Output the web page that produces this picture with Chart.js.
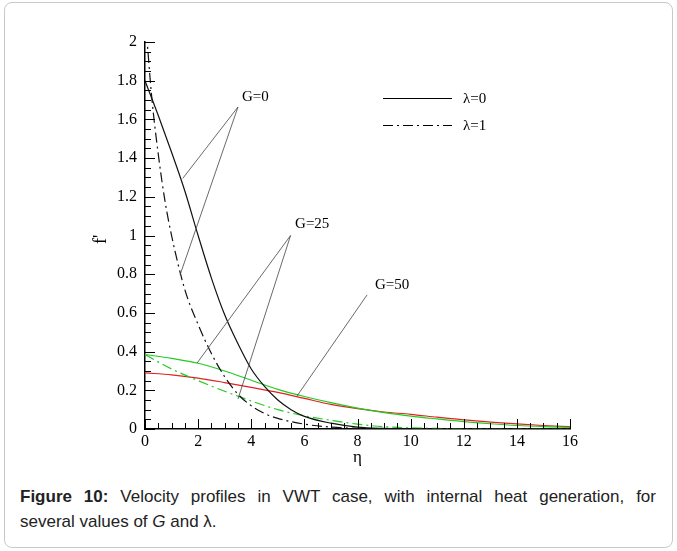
<!DOCTYPE html>
<html>
<head>
<meta charset="utf-8">
<title>Figure 10</title>
<script src="https://cdn.jsdelivr.net/npm/chart.js@4.4.0/dist/chart.umd.min.js"></script>
<style>
  html, body { margin: 0; padding: 0; background: #fff; }
  body { width: 677px; height: 551px; position: relative; overflow: hidden; }
  .frame {
    position: absolute; left: 4px; top: 2px; width: 667px; height: 544px;
    border: 1px solid #c8c8c8; border-radius: 8px;
  }
  #chart { position: absolute; left: 0; top: 0; }
  .caption {
    position: absolute; left: 20px; top: 484px; width: 636px;
    font-family: "Liberation Sans", Arial, sans-serif; font-size: 17px;
    line-height: 25px; color: #222;
  }
  .caption .first { text-align: justify; text-align-last: justify; white-space: nowrap; }
</style>
</head>
<body>
<div class="frame"></div>
<canvas id="chart" width="677" height="470"></canvas>
<div class="caption">
  <div class="first"><b>Figure 10:</b> Velocity profiles in VWT case, with internal heat generation, for</div>
  <div>several values of <i>G</i> and λ.</div>
</div>

<script>
// eta grids
const etaFine = [0, 0.5, 1, 1.5, 2, 2.5, 3, 3.5, 4, 4.5, 5, 5.5, 6, 7, 8, 9, 10, 16];
const etaSteep = [0, 0.25, 0.5, 0.75, 1, 1.5, 2, 2.5, 3, 3.5, 4, 4.5, 5, 6, 7, 8, 9, 16];
const etaWide = [0, 1, 2, 3, 4, 5, 6, 7, 8, 9, 10, 11, 12, 13, 14, 15, 16];

// f'
const g0Lambda0 = [1.8, 1.62, 1.43, 1.23, 1.0, 0.78, 0.59, 0.44, 0.31, 0.22, 0.15, 0.1, 0.065, 0.03, 0.01, 0.003, 0, 0];
const g0Lambda1 = [2.15, 1.72, 1.42, 1.18, 1.0, 0.72, 0.54, 0.39, 0.27, 0.18, 0.12, 0.08, 0.055, 0.025, 0.01, 0.003, 0, 0];
const g25Lambda0 = [0.385, 0.365, 0.34, 0.3, 0.252, 0.205, 0.168, 0.136, 0.108, 0.085, 0.067, 0.052, 0.038, 0.027, 0.018, 0.012, 0.008];
const g25Lambda1 = [0.385, 0.31, 0.25, 0.195, 0.145, 0.1, 0.068, 0.045, 0.025, 0.012, 0.006, 0.003, 0.001, 0, 0, 0, 0];
const g50Lambda0 = [0.29, 0.28, 0.263, 0.24, 0.215, 0.189, 0.158, 0.127, 0.105, 0.088, 0.076, 0.061, 0.047, 0.036, 0.026, 0.018, 0.012];

const xTicks = [0, 2, 4, 6, 8, 10, 12, 14, 16];
const yTicks = [0, 0.2, 0.4, 0.6, 0.8, 1, 1.2, 1.4, 1.6, 1.8, 2];

// pointer labels (data coords)
const pointerNames = ["G=0", "G=25", "G=50"];
const pointerLabelAt = [[3.65, 1.715], [5.65, 1.06], [8.66, 0.745]];
const pointerApex = [[3.5, 1.664], [5.48, 1.0], [8.36, 0.693]];
const pointerTargets = [
    [[1.42, 1.295], [1.32, 0.796]],
    [[1.96, 0.341], [3.5, 0.155]],
    [[5.72, 0.17]]
];

const legendNames = ["\u03bb=0", "\u03bb=1"];

const dashDot = [10, 4, 2, 4];

function pairs(xs, ys) {
    return xs.map((x, i) => ({ x: x, y: ys[i] }));
}

function series(label, xs, ys, color, dash) {
    return {
        label: label,
        data: pairs(xs, ys),
        borderColor: color,
        borderWidth: 1.2,
        borderDash: dash,
        pointRadius: 0,
        cubicInterpolationMode: 'monotone',
        fill: false
    };
}

/* ticks, titles, pointers and legend */
const decor = {
    id: 'decor',
    afterDraw(chart) {
        const ctx = chart.ctx;
        const xs = chart.scales.x;
        const ys = chart.scales.y;
        const area = chart.chartArea;

        ctx.save();
        ctx.strokeStyle = "#000";
        ctx.lineWidth = 1;
        // inward ticks on y
        for (let i = 0; i <= 40; i++) {
            const py = Math.round(ys.getPixelForValue(i * 0.05)) + 0.5;
            const len = i % 4 === 0 ? 10 : 6;
            ctx.beginPath();
            ctx.moveTo(area.left, py);
            ctx.lineTo(area.left + len, py);
            ctx.stroke();
        }
        // inward ticks on x
        for (let i = 0; i <= 32; i++) {
            const px = Math.round(xs.getPixelForValue(i * 0.5)) + 0.5;
            const len = i % 4 === 0 ? 10 : 6;
            ctx.beginPath();
            ctx.moveTo(px, area.bottom);
            ctx.lineTo(px, area.bottom - len);
            ctx.stroke();
        }

        // axis titles
        ctx.fillStyle = "#000";
        ctx.font = '17px "Liberation Serif"';
        ctx.textAlign = "center";
        ctx.textBaseline = "middle";
        ctx.fillText("\u03b7", xs.getPixelForValue(8), area.bottom + 29);
        ctx.save();
        ctx.translate(101, ys.getPixelForValue(0.98));
        ctx.rotate(-Math.PI / 2);
        ctx.font = '18px "Liberation Serif"';
        ctx.fillText("f'", 0, 0);
        ctx.restore();

        // pointers
        ctx.strokeStyle = "#444";
        ctx.lineWidth = 0.8;
        ctx.font = '15px "Liberation Serif"';
        ctx.textAlign = "left";
        pointerNames.forEach((name, k) => {
            const ax = xs.getPixelForValue(pointerApex[k][0]);
            const ay = ys.getPixelForValue(pointerApex[k][1]);
            pointerTargets[k].forEach(t => {
                ctx.beginPath();
                ctx.moveTo(ax, ay);
                ctx.lineTo(xs.getPixelForValue(t[0]), ys.getPixelForValue(t[1]));
                ctx.stroke();
            });
            ctx.fillText(name, xs.getPixelForValue(pointerLabelAt[k][0]), ys.getPixelForValue(pointerLabelAt[k][1]));
        });

        // legend
        const lx0 = area.left + 238;
        const lx1 = area.left + 307;
        const rows = [area.top + 56, area.top + 83];
        ctx.strokeStyle = "#000";
        ctx.lineWidth = 1.2;
        rows.forEach((ry, k) => {
            ctx.setLineDash(k === 0 ? [] : dashDot);
            ctx.beginPath();
            ctx.moveTo(lx0, ry + 0.5);
            ctx.lineTo(lx1, ry + 0.5);
            ctx.stroke();
            ctx.setLineDash([]);
            ctx.fillText(legendNames[k], area.left + 318, ry + 1);
        });
        ctx.restore();
    }
};

Chart.defaults.font.family = '"Liberation Serif", "Times New Roman", serif';
Chart.defaults.font.size = 16;
Chart.defaults.color = "#000";

new Chart(document.getElementById("chart").getContext("2d"), {
    type: 'line',
    data: {
        datasets: [
            series("G=0, \u03bb=0", etaFine, g0Lambda0, "#111", []),
            series("G=0, \u03bb=1", etaSteep, g0Lambda1, "#111", dashDot),
            series("G=25, \u03bb=0", etaWide, g25Lambda0, "#22cc22", []),
            series("G=25, \u03bb=1", etaWide, g25Lambda1, "#22cc22", dashDot),
            series("G=50, \u03bb=0", etaWide, g50Lambda0, "#e02222", [])
        ]
    },
    options: {
        responsive: false,
        animation: false,
        layout: { padding: { top: 42, right: 107, left: 0, bottom: 0 } },
        plugins: {
            legend: { display: false },
            tooltip: { enabled: false }
        },
        scales: {
            x: {
                type: 'linear',
                min: 0,
                max: 16,
                afterFit: scale => { scale.height = 41; },
                afterBuildTicks: scale => { scale.ticks = xTicks.map(v => ({ value: v })); },
                grid: { display: false, drawTicks: false },
                border: { display: true, color: "#000", width: 1.5 },
                ticks: { padding: 3, maxRotation: 0, callback: v => String(Math.round(v * 10) / 10) }
            },
            y: {
                type: 'linear',
                min: 0,
                max: 2,
                afterFit: scale => { scale.width = 145; },
                afterBuildTicks: scale => { scale.ticks = yTicks.map(v => ({ value: v })); },
                grid: { display: false, drawTicks: false },
                border: { display: true, color: "#000", width: 1.5 },
                ticks: { padding: 8, callback: v => String(Math.round(v * 10) / 10) }
            }
        }
    },
    plugins: [decor]
});
</script>
</body>
</html>
